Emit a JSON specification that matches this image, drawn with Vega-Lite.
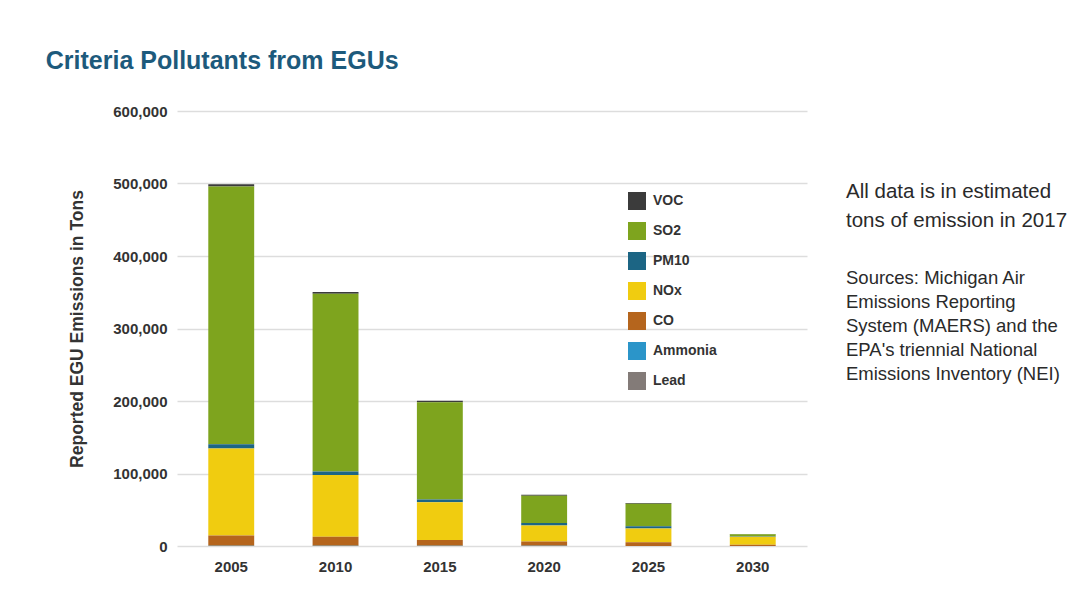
{
  "$schema": "https://vega.github.io/schema/vega-lite/v6.json",
  "background": "white",
  "padding": {"left": 45, "top": 49, "right": 0, "bottom": 10},
  "bounds": "flush",
  "spacing": 39,
  "title": {"text": "Criteria Pollutants from EGUs", "anchor": "start", "frame": "bounds", "font": "Liberation Sans", "fontSize": 25, "fontWeight": "bold", "color": "#1d5a7c", "offset": 30, "dx": -23},
  "config": {
    "view": {"stroke": null},
    "font": "Liberation Sans",
    "axis": {"labelFont": "Liberation Sans", "labelFontWeight": "bold", "labelColor": "#333333", "titleColor": "#333333", "titleFont": "Liberation Sans", "domain": false, "ticks": false, "tickSize": 0}
  },
  "hconcat": [
    {
      "width": 630,
      "height": 435,
      "data": {"values": [
        {"year": "2005", "pollutant": "VOC", "tons": 3000},
        {"year": "2005", "pollutant": "SO2", "tons": 355500},
        {"year": "2005", "pollutant": "PM10", "tons": 6000},
        {"year": "2005", "pollutant": "NOx", "tons": 120000},
        {"year": "2005", "pollutant": "CO", "tons": 14000},
        {"year": "2005", "pollutant": "Ammonia", "tons": 400},
        {"year": "2005", "pollutant": "Lead", "tons": 10},
        {"year": "2010", "pollutant": "VOC", "tons": 2500},
        {"year": "2010", "pollutant": "SO2", "tons": 245000},
        {"year": "2010", "pollutant": "PM10", "tons": 5000},
        {"year": "2010", "pollutant": "NOx", "tons": 85000},
        {"year": "2010", "pollutant": "CO", "tons": 12500},
        {"year": "2010", "pollutant": "Ammonia", "tons": 300},
        {"year": "2010", "pollutant": "Lead", "tons": 8},
        {"year": "2015", "pollutant": "VOC", "tons": 2000},
        {"year": "2015", "pollutant": "SO2", "tons": 134000},
        {"year": "2015", "pollutant": "PM10", "tons": 4000},
        {"year": "2015", "pollutant": "NOx", "tons": 52000},
        {"year": "2015", "pollutant": "CO", "tons": 8000},
        {"year": "2015", "pollutant": "Ammonia", "tons": 250},
        {"year": "2015", "pollutant": "Lead", "tons": 5},
        {"year": "2020", "pollutant": "VOC", "tons": 1500},
        {"year": "2020", "pollutant": "SO2", "tons": 37500},
        {"year": "2020", "pollutant": "PM10", "tons": 3500},
        {"year": "2020", "pollutant": "NOx", "tons": 22000},
        {"year": "2020", "pollutant": "CO", "tons": 6000},
        {"year": "2020", "pollutant": "Ammonia", "tons": 200},
        {"year": "2020", "pollutant": "Lead", "tons": 3},
        {"year": "2025", "pollutant": "VOC", "tons": 1000},
        {"year": "2025", "pollutant": "SO2", "tons": 31000},
        {"year": "2025", "pollutant": "PM10", "tons": 3000},
        {"year": "2025", "pollutant": "NOx", "tons": 19000},
        {"year": "2025", "pollutant": "CO", "tons": 5000},
        {"year": "2025", "pollutant": "Ammonia", "tons": 150},
        {"year": "2025", "pollutant": "Lead", "tons": 2},
        {"year": "2030", "pollutant": "VOC", "tons": 500},
        {"year": "2030", "pollutant": "SO2", "tons": 2500},
        {"year": "2030", "pollutant": "PM10", "tons": 1000},
        {"year": "2030", "pollutant": "NOx", "tons": 11000},
        {"year": "2030", "pollutant": "CO", "tons": 1500},
        {"year": "2030", "pollutant": "Ammonia", "tons": 100},
        {"year": "2030", "pollutant": "Lead", "tons": 1}
      ]},
      "mark": {"type": "bar"},
      "encoding": {
        "x": {"field": "year", "type": "ordinal", "scale": {"paddingInner": 0.56, "paddingOuter": 0.3},
              "axis": {"title": null, "labelAngle": 0, "labelFontSize": 15, "labelPadding": 13, "grid": false}},
        "y": {"field": "tons", "type": "quantitative", "aggregate": "sum", "stack": "zero",
              "scale": {"domain": [0, 600000], "nice": false},
              "axis": {"title": "Reported EGU Emissions in Tons", "titleFontSize": 17.5, "titleFontWeight": "bold", "titlePadding": 26,
                       "values": [0, 100000, 200000, 300000, 400000, 500000, 600000], "format": ",d",
                       "labelFontSize": 15, "labelPadding": 10, "grid": true, "gridColor": "#dddddd", "gridWidth": 1.5}},
        "color": {"field": "pollutant", "type": "nominal",
                  "sort": ["VOC", "SO2", "PM10", "NOx", "CO", "Ammonia", "Lead"],
                  "scale": {"domain": ["VOC", "SO2", "PM10", "NOx", "CO", "Ammonia", "Lead"],
                            "range": ["#3b3b3b", "#7ea41e", "#1c6584", "#f0cc10", "#b5651d", "#2b95c9", "#837b78"]},
                  "legend": {"title": null, "orient": "none", "legendX": 451, "legendY": 81, "padding": 0,
                             "symbolType": "square", "symbolSize": 324, "symbolStrokeWidth": 0, "symbolOpacity": 1,
                             "labelFont": "Liberation Sans", "labelFontWeight": "bold", "labelFontSize": 14, "labelColor": "#333333",
                             "labelOffset": 7, "rowPadding": 12}},
        "order": {"field": "pollutant", "type": "ordinal", "sort": "ascending"}
      }
    },
    {
      "width": 240,
      "height": 260,
      "data": {"values": [
        {"para": "note", "text": ["All data is in estimated", "tons of emission in 2017"]},
        {"para": "source", "text": ["Sources: Michigan Air", "Emissions Reporting", "System (MAERS) and the", "EPA's triennial National", "Emissions Inventory (NEI)"]}
      ]},
      "encoding": {
        "x": {"datum": 0, "type": "quantitative", "scale": {"domain": [0, 1]}, "axis": null},
        "y": {"field": "para", "type": "nominal", "scale": {"type": "point", "domain": ["note", "source"], "padding": 1.1}, "axis": null},
        "text": {"field": "text"}
      },
      "layer": [
        {"transform": [{"filter": "datum.para === 'note'"}],
         "mark": {"type": "text", "align": "left", "baseline": "alphabetic", "font": "Liberation Sans", "fontSize": 20.5, "lineHeight": 29, "color": "#2a2a2a"}},
        {"transform": [{"filter": "datum.para === 'source'"}],
         "mark": {"type": "text", "align": "left", "baseline": "alphabetic", "font": "Liberation Sans", "fontSize": 18.5, "lineHeight": 24, "color": "#2a2a2a"}}
      ]
    }
  ]
}
